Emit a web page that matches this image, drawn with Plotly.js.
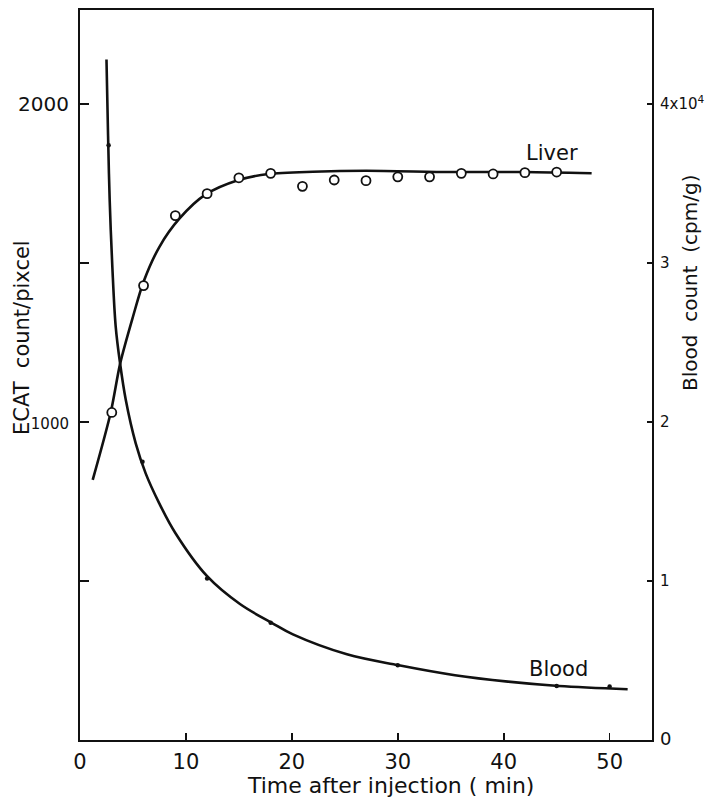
<!DOCTYPE html>
<html>
<head>
<meta charset="utf-8">
<script src="https://cdn.plot.ly/plotly-3.0.1.min.js"></script>
<style>
  html, body { margin: 0; padding: 0; background: #fff; }
  #chart { width: 711px; height: 802px; }
</style>
</head>
<body>
<div id="chart"></div>
<script>
// Liver (ECAT count/pixcel, left axis) – measured points
const liverT = [3, 6, 9, 12, 15, 18, 21, 24, 27, 30, 33, 36, 39, 42, 45];
const liverV = [1030, 1429, 1649, 1718, 1768, 1782, 1741, 1761, 1759, 1771, 1771, 1782, 1780, 1784, 1786];
// Liver fitted curve
const liverFitT = [1.2, 2.9, 3.8, 5.0, 6.0, 7.5, 9.4, 11.8, 14.9, 17.8, 22.0, 27.0, 35.0, 42.0, 48.3];
const liverFitV = [818, 1030, 1185, 1331, 1441, 1551, 1640, 1714, 1760, 1780, 1787, 1790, 1786, 1786, 1782];

// Blood (cpm/g, right axis) – measured points
const bloodT = [2.7, 5.9, 12, 18, 30, 45, 50];
const bloodC = [37400, 17500, 10150, 7370, 4700, 3400, 3365];
// Blood fitted curve
const bloodFitT = [2.5, 2.65, 2.8, 3.05, 3.37, 3.78, 4.32, 5.26, 6.2, 7.47, 9.0, 12.0, 15.1, 18.1, 20.1, 25.2, 30.1, 35.4, 40.4, 45.2, 51.7];
const bloodFitC = [42800, 38000, 34000, 29800, 26000, 23700, 21400, 18660, 16770, 14900, 13020, 10300, 8550, 7370, 6640, 5390, 4700, 4075, 3673, 3400, 3195];

// Axis ticks
const xTicks = [0, 10, 20, 30, 40, 50];
const leftTickVals = [1000, 2000];
const leftTickText = ['<span style="font-size:15px">1000</span>', '2000'];
const leftMinorVals = [500, 1500];
const rightTickVals = [0, 10000, 20000, 30000, 40000];
const rightTickText = ['<span style="font-size:18px">0</span>', '1', '2', '3', '4x10<sup>4</sup>'];

const FONT = 'DejaVu Sans, Verdana, sans-serif';
const INK = '#111';

const traces = [
  { x: bloodFitT, y: bloodFitC, yaxis: 'y2', mode: 'lines',
    line: { color: INK, width: 2.6, shape: 'spline', smoothing: 1.0 }, hoverinfo: 'skip' },
  { x: bloodT, y: bloodC, yaxis: 'y2', mode: 'markers',
    marker: { color: INK, size: 4.5, symbol: 'circle' } },
  { x: liverFitT, y: liverFitV, mode: 'lines',
    line: { color: INK, width: 2.6, shape: 'spline', smoothing: 0.8 }, hoverinfo: 'skip' },
  { x: liverT, y: liverV, mode: 'markers',
    marker: { color: '#fff', size: 9, symbol: 'circle', line: { color: INK, width: 1.8 } } }
];

const layout = {
  width: 711, height: 802,
  margin: { l: 80, r: 59, t: 10, b: 62 },
  paper_bgcolor: '#fff', plot_bgcolor: '#fff',
  showlegend: false,
  font: { family: FONT, color: INK, size: 18 },
  xaxis: {
    range: [0, 54], tickvals: xTicks, ticks: 'inside', ticklen: 7, tickwidth: 1.6, tickcolor: INK,
    showline: true, linewidth: 2, linecolor: INK, mirror: true, showgrid: false, zeroline: false,
    tickfont: { size: 21, family: FONT }, ticklabelstandoff: 2
  },
  yaxis: {
    range: [0, 2295.6], tickvals: leftTickVals, ticktext: leftTickText,
    ticks: 'inside', ticklen: 9, tickwidth: 1.6, tickcolor: INK,
    minor: { tickvals: leftMinorVals, ticks: 'inside', ticklen: 9, tickwidth: 1.6, tickcolor: INK, showgrid: false },
    showline: true, linewidth: 2, linecolor: INK, showgrid: false, zeroline: false,
    tickfont: { size: 20, family: FONT }, ticklabelstandoff: 5
  },
  yaxis2: {
    overlaying: 'y', side: 'right', range: [0, 45912],
    tickvals: rightTickVals, ticktext: rightTickText,
    ticks: 'inside', ticklen: 5, tickwidth: 1.6, tickcolor: INK,
    showline: true, linewidth: 2, linecolor: INK, showgrid: false, zeroline: false,
    tickfont: { size: 15, family: FONT }, ticklabelstandoff: 3
  },
  annotations: [
    { x: 44.6, y: 1846, xref: 'x', yref: 'y', text: 'Liver', showarrow: false,
      font: { size: 21, family: FONT, color: INK } },
    { x: 45.2, y: 4447, xref: 'x', yref: 'y2', text: 'Blood', showarrow: false,
      font: { size: 21, family: FONT, color: INK } },
    { x: 390, y: 785, xref: 'paper', yref: 'paper', text: 'Time after injection ( min)', showarrow: false,
      font: { size: 22, family: FONT, color: INK } },
    { x: 22, y: 338, xref: 'paper', yref: 'paper', text: 'ECAT  count/pixcel', showarrow: false, textangle: -90,
      font: { size: 21, family: FONT, color: INK } },
    { x: 690, y: 283, xref: 'paper', yref: 'paper', text: 'Blood  count  (cpm/g)', showarrow: false, textangle: -90,
      font: { size: 20, family: FONT, color: INK } }
  ]
};

// convert the pixel positions (x, y from top-left) of the three axis titles to paper coordinates
const plotW = 711 - 80 - 59, plotH = 802 - 10 - 62;
layout.annotations.slice(2).forEach(a => {
  a.x = (a.x - 80) / plotW;
  a.y = (802 - 62 - a.y) / plotH;
  a.xanchor = 'center'; a.yanchor = 'middle';
});

Plotly.newPlot('chart', traces, layout, { staticPlot: true, displayModeBar: false });
</script>
</body>
</html>
